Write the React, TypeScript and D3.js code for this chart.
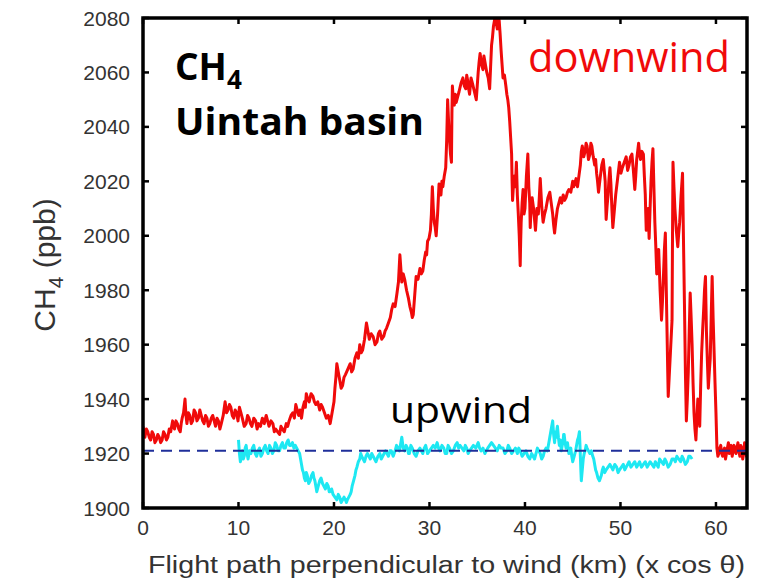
import React from "react";
import * as d3 from "d3";

// CH4 along the flight path, [km, ppb]
const downwind: [number, number][] = [
  [0, 1930], [0.1, 1927], [0.2, 1926], [0.35, 1929], [0.5, 1928], [0.65, 1926], [0.8, 1925], [0.95, 1928],
  [1.1, 1927], [1.25, 1924], [1.4, 1925], [1.55, 1927], [1.7, 1926], [1.85, 1924], [2.0, 1925], [2.15, 1928],
  [2.3, 1927], [2.45, 1925], [2.6, 1926], [2.75, 1929], [2.9, 1928], [3.1, 1932], [3.2, 1930], [3.3, 1929],
  [3.45, 1932], [3.6, 1931], [3.75, 1929], [3.9, 1928], [4.0, 1931], [4.1, 1933], [4.25, 1935], [4.4, 1940],
  [4.5, 1934], [4.6, 1931], [4.75, 1935], [4.9, 1934], [5.05, 1931], [5.2, 1932], [5.35, 1936], [5.5, 1935],
  [5.65, 1932], [5.8, 1933], [5.95, 1936], [6.1, 1934], [6.25, 1932], [6.4, 1931], [6.55, 1934], [6.7, 1933],
  [6.85, 1930], [7.0, 1931], [7.15, 1933], [7.3, 1934], [7.45, 1932], [7.6, 1930], [7.75, 1933], [7.9, 1932],
  [8.05, 1929], [8.2, 1931], [8.4, 1934], [8.6, 1939], [8.75, 1935], [8.9, 1936], [9.05, 1938], [9.2, 1937],
  [9.35, 1934], [9.5, 1933], [9.65, 1936], [9.8, 1935], [9.95, 1932], [10.1, 1937], [10.25, 1935], [10.4, 1933],
  [10.6, 1930], [10.8, 1931], [10.95, 1934], [11.1, 1933], [11.25, 1931], [11.4, 1930], [11.6, 1933], [11.8, 1932],
  [11.95, 1929], [12.1, 1931], [12.3, 1930], [12.5, 1933], [12.7, 1931], [12.9, 1934], [13.05, 1932], [13.2, 1930],
  [13.4, 1932], [13.6, 1931], [13.75, 1928], [13.9, 1929], [14.1, 1928], [14.3, 1927], [14.45, 1930], [14.6, 1929],
  [14.8, 1928], [15.0, 1931], [15.15, 1930], [15.3, 1932], [15.5, 1934], [15.7, 1935], [15.85, 1933], [16.0, 1938],
  [16.15, 1936], [16.3, 1934], [16.45, 1936], [16.6, 1933], [16.75, 1937], [16.9, 1939], [17.0, 1937], [17.1, 1942],
  [17.25, 1940], [17.4, 1939], [17.6, 1942], [17.8, 1941], [17.95, 1939], [18.1, 1938], [18.3, 1939], [18.5, 1936],
  [18.65, 1938], [18.8, 1937], [19.0, 1935], [19.2, 1933], [19.4, 1934], [19.6, 1931], [19.75, 1934], [19.9, 1937],
  [20.0, 1939], [20.1, 1944], [20.2, 1948], [20.3, 1953], [20.45, 1950], [20.6, 1947], [20.75, 1944], [20.9, 1945],
  [21.05, 1948], [21.2, 1949], [21.45, 1951], [21.7, 1953], [21.85, 1950], [22.0, 1951], [22.2, 1955], [22.4, 1957],
  [22.55, 1955], [22.7, 1960], [22.85, 1957], [23.0, 1958], [23.2, 1962], [23.4, 1968], [23.55, 1965], [23.7, 1962],
  [23.9, 1964], [24.1, 1963], [24.3, 1960], [24.5, 1961], [24.65, 1964], [24.8, 1965], [25.0, 1962], [25.2, 1963],
  [25.35, 1965], [25.5, 1966], [25.7, 1968], [25.9, 1970], [26.05, 1973], [26.2, 1975], [26.4, 1974], [26.6, 1979],
  [26.75, 1983], [26.9, 1993], [27.0, 1988], [27.1, 1983], [27.25, 1986], [27.4, 1984], [27.6, 1980], [27.8, 1977],
  [27.95, 1974], [28.1, 1972], [28.2, 1970], [28.3, 1971], [28.45, 1978], [28.6, 1985], [28.8, 1984], [29.0, 1988],
  [29.15, 1986], [29.3, 1987], [29.45, 1991], [29.6, 1994], [29.7, 1993], [29.8, 1998], [29.95, 1999], [30.1, 2002],
  [30.2, 2008], [30.3, 2018], [30.4, 2010], [30.5, 2005], [30.6, 2003], [30.7, 2000], [30.85, 2008], [31.0, 2019],
  [31.1, 2017], [31.2, 2015], [31.3, 2020], [31.4, 2018], [31.55, 2022], [31.7, 2025], [31.8, 2035], [31.9, 2050],
  [32.0, 2042], [32.1, 2035], [32.2, 2030], [32.3, 2027], [32.35, 2045], [32.4, 2055], [32.5, 2050], [32.6, 2048],
  [32.7, 2052], [32.8, 2049], [32.95, 2051], [33.1, 2053], [33.3, 2056], [33.5, 2058], [33.65, 2055], [33.8, 2054],
  [33.9, 2059], [34.0, 2057], [34.1, 2054], [34.2, 2052], [34.35, 2058], [34.5, 2056], [34.7, 2053], [34.9, 2050],
  [35.0, 2055], [35.1, 2060], [35.2, 2064], [35.3, 2067], [35.45, 2063], [35.6, 2061], [35.7, 2066], [35.8, 2064],
  [35.9, 2062], [36.0, 2060], [36.15, 2058], [36.3, 2054], [36.4, 2062], [36.5, 2070], [36.6, 2073], [36.7, 2077],
  [36.8, 2079], [36.9, 2081], [37.0, 2078], [37.1, 2076], [37.2, 2081], [37.3, 2079], [37.4, 2074], [37.5, 2068],
  [37.6, 2063], [37.7, 2058], [37.85, 2059], [38.0, 2055], [38.1, 2052], [38.2, 2050], [38.3, 2047], [38.4, 2042],
  [38.5, 2036], [38.6, 2030], [38.65, 2020], [38.7, 2013], [38.8, 2019], [38.9, 2022], [39.0, 2018], [39.1, 2027],
  [39.2, 2015], [39.3, 2008], [39.4, 2000], [39.5, 1989], [39.55, 1998], [39.6, 2005], [39.7, 2012], [39.8, 2017],
  [39.9, 2008], [40.0, 2010], [40.15, 2022], [40.3, 2030], [40.4, 2018], [40.5, 2012], [40.55, 2003], [40.6, 2007],
  [40.75, 2014], [40.9, 2010], [41.0, 2006], [41.1, 2002], [41.25, 2010], [41.4, 2008], [41.5, 2014], [41.6, 2021],
  [41.75, 2011], [41.9, 2005], [42.05, 2008], [42.2, 2010], [42.4, 2014], [42.6, 2016], [42.75, 2012], [42.9, 2008],
  [43.0, 2004], [43.1, 2001], [43.25, 2006], [43.4, 2010], [43.55, 2012], [43.7, 2014], [43.85, 2012], [44.0, 2015],
  [44.15, 2013], [44.3, 2014], [44.45, 2016], [44.6, 2017], [44.8, 2016], [45.0, 2020], [45.1, 2018], [45.2, 2019],
  [45.35, 2021], [45.5, 2018], [45.65, 2022], [45.8, 2026], [45.9, 2031], [46.0, 2033], [46.15, 2029], [46.3, 2031],
  [46.4, 2034], [46.5, 2033], [46.65, 2028], [46.8, 2030], [46.9, 2034], [47.0, 2033], [47.15, 2029], [47.3, 2026],
  [47.4, 2028], [47.5, 2023], [47.6, 2020], [47.7, 2016], [47.8, 2019], [47.9, 2022], [48.05, 2026], [48.2, 2028],
  [48.3, 2024], [48.4, 2020], [48.45, 2012], [48.5, 2006], [48.6, 2011], [48.7, 2015], [48.8, 2021], [48.9, 2025],
  [48.95, 2022], [49.0, 2019], [49.1, 2010], [49.2, 2003], [49.35, 2009], [49.5, 2015], [49.7, 2021], [49.9, 2027],
  [50.05, 2023], [50.2, 2025], [50.4, 2027], [50.6, 2029], [50.75, 2024], [50.9, 2026], [51.05, 2029], [51.2, 2030],
  [51.35, 2024], [51.5, 2017], [51.6, 2022], [51.7, 2028], [51.8, 2031], [51.9, 2034], [52.0, 2030], [52.1, 2028],
  [52.25, 2031], [52.4, 2030], [52.5, 2022], [52.6, 2015], [52.65, 2008], [52.7, 2002], [52.8, 2007], [52.9, 2010],
  [52.95, 2004], [53.0, 1999], [53.1, 2010], [53.2, 2020], [53.3, 2027], [53.4, 2032], [53.5, 2018], [53.6, 2005],
  [53.7, 1996], [53.8, 1986], [53.9, 1990], [54.0, 1995], [54.15, 1980], [54.3, 1969], [54.4, 1976], [54.5, 1985],
  [54.6, 1995], [54.7, 2001], [54.8, 1980], [54.9, 1960], [54.95, 1950], [55.0, 1941], [55.1, 1948], [55.2, 1955],
  [55.3, 1962], [55.4, 1969], [55.45, 2000], [55.5, 2027], [55.6, 2018], [55.7, 2010], [55.85, 2002], [56.0, 1996],
  [56.1, 2001], [56.2, 2005], [56.35, 2015], [56.5, 2023], [56.6, 1998], [56.7, 1975], [56.8, 1950], [56.9, 1932],
  [57.0, 1940], [57.1, 1950], [57.2, 1965], [57.3, 1979], [57.4, 1970], [57.5, 1960], [57.6, 1946], [57.7, 1935],
  [57.8, 1929], [57.9, 1925], [58.0, 1933], [58.1, 1940], [58.2, 1935], [58.3, 1930], [58.4, 1945], [58.5, 1957],
  [58.6, 1965], [58.7, 1972], [58.8, 1980], [58.9, 1985], [58.95, 1975], [59.0, 1965], [59.1, 1954], [59.2, 1944],
  [59.3, 1950], [59.4, 1955], [59.5, 1970], [59.6, 1985], [59.7, 1970], [59.8, 1958], [59.9, 1946], [60.0, 1935],
  [60.1, 1922], [60.2, 1919], [60.3, 1920], [60.4, 1922], [60.5, 1923], [60.6, 1920], [60.7, 1919], [60.8, 1921],
  [60.9, 1922], [61.0, 1918], [61.1, 1920], [61.2, 1922], [61.3, 1924], [61.4, 1920], [61.5, 1921], [61.6, 1923],
  [61.7, 1919], [61.8, 1921], [61.9, 1923], [62.0, 1921], [62.1, 1920], [62.2, 1922], [62.3, 1924], [62.4, 1921],
  [62.5, 1919], [62.6, 1923], [62.7, 1922], [62.8, 1918], [62.9, 1920], [63.0, 1924], [63.1, 1923], [63.2, 1919],
  [63.3, 1920],
];

const upwind: [number, number][] = [
  [10.0, 1925], [10.1, 1920], [10.2, 1917], [10.3, 1919], [10.4, 1921], [10.5, 1918], [10.6, 1919], [10.7, 1922],
  [10.8, 1923], [10.9, 1920], [11.0, 1918], [11.15, 1921], [11.3, 1920], [11.45, 1922], [11.6, 1923], [11.75, 1920],
  [11.9, 1919], [12.05, 1921], [12.2, 1922], [12.35, 1919], [12.5, 1920], [12.65, 1922], [12.8, 1923], [12.95, 1921],
  [13.1, 1920], [13.25, 1923], [13.4, 1922], [13.55, 1920], [13.7, 1921], [13.85, 1924], [14.0, 1923], [14.15, 1921],
  [14.3, 1921], [14.45, 1923], [14.6, 1924], [14.75, 1922], [14.9, 1922], [15.05, 1924], [15.2, 1925], [15.35, 1923],
  [15.5, 1923], [15.65, 1924], [15.8, 1922], [15.95, 1923], [16.1, 1922], [16.25, 1921], [16.4, 1920], [16.5, 1918],
  [16.6, 1916], [16.7, 1914], [16.8, 1913], [16.9, 1911], [17.0, 1910], [17.1, 1913], [17.2, 1912], [17.35, 1909],
  [17.5, 1910], [17.65, 1912], [17.8, 1913], [17.9, 1911], [18.0, 1910], [18.1, 1908], [18.2, 1906], [18.35, 1908],
  [18.5, 1910], [18.65, 1911], [18.8, 1909], [18.95, 1908], [19.1, 1907], [19.25, 1909], [19.4, 1908], [19.5, 1906],
  [19.6, 1906], [19.75, 1907], [19.9, 1905], [20.1, 1904], [20.3, 1903], [20.45, 1905], [20.6, 1904], [20.75, 1902],
  [20.9, 1903], [21.05, 1904], [21.2, 1903], [21.3, 1902], [21.4, 1903], [21.55, 1904], [21.7, 1905], [21.8, 1906],
  [21.9, 1908], [22.05, 1910], [22.2, 1912], [22.3, 1914], [22.4, 1915], [22.55, 1917], [22.7, 1918], [22.8, 1920],
  [22.9, 1919], [23.05, 1918], [23.2, 1917], [23.35, 1919], [23.5, 1920], [23.65, 1919], [23.8, 1918], [23.95, 1920],
  [24.1, 1919], [24.25, 1918], [24.4, 1917], [24.6, 1919], [24.8, 1920], [24.95, 1918], [25.1, 1919], [25.25, 1920],
  [25.4, 1921], [25.55, 1920], [25.7, 1919], [25.85, 1921], [26.0, 1921], [26.2, 1919], [26.4, 1921], [26.55, 1923],
  [26.7, 1922], [26.85, 1921], [27.0, 1924], [27.1, 1926], [27.25, 1922], [27.4, 1921], [27.55, 1923], [27.7, 1922],
  [27.8, 1920], [27.9, 1920], [28.05, 1923], [28.2, 1922], [28.4, 1920], [28.6, 1919], [28.8, 1921], [29.0, 1922],
  [29.15, 1921], [29.3, 1920], [29.45, 1922], [29.6, 1923], [29.8, 1920], [30.0, 1921], [30.2, 1922], [30.4, 1923],
  [30.6, 1922], [30.8, 1924], [30.95, 1922], [31.1, 1921], [31.3, 1923], [31.5, 1922], [31.65, 1920], [31.8, 1920],
  [31.95, 1923], [32.1, 1922], [32.3, 1920], [32.5, 1921], [32.7, 1923], [32.9, 1924], [33.05, 1922], [33.2, 1923],
  [33.4, 1922], [33.6, 1921], [33.75, 1923], [33.9, 1922], [34.05, 1920], [34.2, 1921], [34.4, 1922], [34.6, 1923],
  [34.85, 1922], [35.1, 1924], [35.25, 1922], [35.4, 1921], [35.6, 1922], [35.8, 1920], [35.95, 1921], [36.1, 1922],
  [36.3, 1923], [36.5, 1924], [36.7, 1923], [36.9, 1922], [37.1, 1921], [37.3, 1923], [37.5, 1922], [37.7, 1922],
  [37.9, 1920], [38.1, 1921], [38.25, 1923], [38.4, 1922], [38.6, 1920], [38.8, 1921], [39.0, 1922], [39.2, 1920],
  [39.35, 1922], [39.5, 1921], [39.7, 1919], [39.9, 1920], [40.1, 1921], [40.3, 1919], [40.5, 1918], [40.7, 1920],
  [40.85, 1919], [41.0, 1918], [41.15, 1920], [41.3, 1922], [41.45, 1921], [41.6, 1920], [41.75, 1918], [41.9, 1919],
  [42.05, 1921], [42.2, 1922], [42.35, 1921], [42.5, 1924], [42.6, 1926], [42.7, 1928], [42.8, 1930], [42.9, 1932],
  [43.0, 1927], [43.1, 1924], [43.2, 1928], [43.3, 1926], [43.35, 1929], [43.4, 1930], [43.5, 1926], [43.6, 1923],
  [43.7, 1925], [43.8, 1921], [43.9, 1923], [44.0, 1925], [44.05, 1927], [44.1, 1927], [44.2, 1924], [44.3, 1922],
  [44.45, 1924], [44.6, 1920], [44.7, 1921], [44.8, 1922], [44.9, 1919], [45.0, 1917], [45.15, 1919], [45.3, 1921],
  [45.4, 1923], [45.5, 1925], [45.6, 1926], [45.7, 1928], [45.75, 1924], [45.8, 1919], [45.85, 1914], [45.9, 1910],
  [46.0, 1914], [46.1, 1918], [46.2, 1920], [46.3, 1921], [46.4, 1923], [46.5, 1922], [46.65, 1921], [46.8, 1920],
  [46.95, 1921], [47.1, 1919], [47.2, 1918], [47.3, 1916], [47.4, 1914], [47.5, 1913], [47.65, 1911], [47.8, 1910],
  [47.9, 1911], [48.0, 1912], [48.1, 1914], [48.2, 1915], [48.35, 1913], [48.5, 1914], [48.7, 1915], [48.9, 1916],
  [49.05, 1915], [49.2, 1914], [49.4, 1916], [49.6, 1915], [49.75, 1913], [49.9, 1914], [50.1, 1915], [50.3, 1916],
  [50.45, 1914], [50.6, 1915], [50.75, 1916], [50.9, 1917], [51.1, 1915], [51.3, 1916], [51.5, 1917], [51.7, 1915],
  [51.85, 1916], [52.0, 1917], [52.2, 1915], [52.4, 1916], [52.6, 1917], [52.8, 1915], [52.95, 1916], [53.1, 1917],
  [53.3, 1916], [53.5, 1915], [53.65, 1917], [53.8, 1916], [53.95, 1915], [54.1, 1918], [54.3, 1917], [54.5, 1916],
  [54.65, 1918], [54.8, 1917], [55.0, 1915], [55.2, 1916], [55.4, 1918], [55.6, 1918], [55.75, 1917], [55.9, 1919],
  [56.1, 1918], [56.3, 1917], [56.45, 1919], [56.6, 1918], [56.8, 1916], [57.0, 1917], [57.15, 1919], [57.3, 1919],
  [57.5, 1918],
];

const background = 1921; // dashed reference level
const xTicks = [0, 10, 20, 30, 40, 50, 60];
const yTicks = [1900, 1920, 1940, 1960, 1980, 2000, 2020, 2040, 2060, 2080];

const W = 759;
const H = 582;
const left = 143, right = 747, top = 18, bottom = 508;

const App = () => {
  const x = d3.scaleLinear().domain([0, 63.25]).range([left, right]);
  const y = d3.scaleLinear().domain([1900, 2080]).range([bottom, top]);
  const line = d3.line<[number, number]>().x((d) => x(d[0])).y((d) => y(d[1]));

  const tickFont = "'Liberation Sans', Arial, sans-serif";
  const noteFont = "'Open Sans', 'Noto Sans', sans-serif";

  return (
    <div style={{ position: "absolute", left: 0, top: 0 }}>
      <svg width={W} height={H} style={{ display: "block", background: "white" }}>
        <defs>
          <clipPath id="plot-clip">
            <rect x={left} y={top} width={right - left} height={bottom - top} />
          </clipPath>
        </defs>

        {/* data */}
        <g clipPath="url(#plot-clip)">
          <path d={line(upwind) || ""} fill="none" stroke="#1ee8f2" strokeWidth={3} strokeLinejoin="round" />
          <path d={line(downwind) || ""} fill="none" stroke="#f00a0a" strokeWidth={3} strokeLinejoin="round" />
          <line x1={left} x2={right} y1={y(background)} y2={y(background)}
            stroke="#1f2f9a" strokeWidth={2} strokeDasharray="11,7" />
        </g>

        {/* ticks, all four sides, pointing in */}
        {xTicks.map((t) => (
          <g key={"x" + t}>
            <line x1={x(t)} x2={x(t)} y1={bottom} y2={bottom - 6} stroke="black" strokeWidth={2.5} />
            <line x1={x(t)} x2={x(t)} y1={top} y2={top + 6} stroke="black" strokeWidth={2.5} />
            <text x={x(t)} y={bottom + 27} textAnchor="middle" fontFamily={tickFont} fontSize={21} fill="#333">{t}</text>
          </g>
        ))}
        {yTicks.map((t) => (
          <g key={"y" + t}>
            <line x1={left} x2={left + 6} y1={y(t)} y2={y(t)} stroke="black" strokeWidth={2.5} />
            <line x1={right} x2={right - 6} y1={y(t)} y2={y(t)} stroke="black" strokeWidth={2.5} />
            <text x={left - 13} y={y(t) + 7.5} textAnchor="end" fontFamily={tickFont} fontSize={21} fill="#333">{t}</text>
          </g>
        ))}

        {/* frame */}
        <rect x={left} y={top} width={right - left} height={bottom - top} fill="none" stroke="black" strokeWidth={3.5} />

        {/* axis titles */}
        <text x={148} y={573} fontFamily={tickFont} fontSize={23} fill="#333" textLength={597} lengthAdjust="spacingAndGlyphs">
          Flight path perpendicular to wind (km) (x cos θ)
        </text>
        <text transform={`translate(55, 265) rotate(-90)`} textAnchor="middle" fontFamily={tickFont} fontSize={30} fill="#333">
          CH<tspan fontSize={21} dy={8}>4</tspan><tspan dy={-8}> (ppb)</tspan>
        </text>

        {/* annotations */}
        <text x={175} y={80} fontFamily={noteFont} fontWeight="bold" fontSize={37} fill="black">
          CH<tspan fontSize={26} dy={9}>4</tspan>
        </text>
        <text x={175} y={135} fontFamily={noteFont} fontWeight="bold" fontSize={37} fill="black" textLength={249} lengthAdjust="spacingAndGlyphs">
          Uintah basin
        </text>
        <text x={528} y={72} fontFamily={noteFont} fontSize={42} fill="#f00a0a" textLength={202} lengthAdjust="spacingAndGlyphs">
          downwind
        </text>
        <text x={390} y={423} fontFamily={noteFont} fontSize={36} fill="black" textLength={142} lengthAdjust="spacingAndGlyphs">
          upwind
        </text>
      </svg>
    </div>
  );
};

export default App;
